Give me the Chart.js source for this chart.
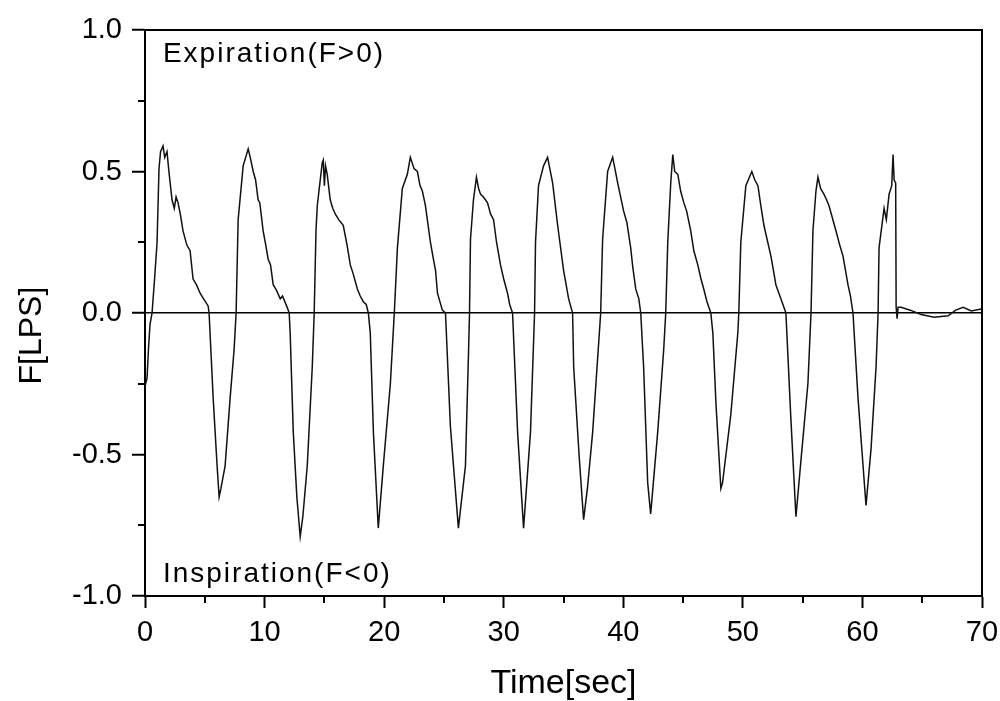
<!DOCTYPE html>
<html>
<head>
<meta charset="utf-8">
<title>F[LPS] vs Time[sec]</title>
<script src="https://cdn.jsdelivr.net/npm/chart.js@4.4.1/dist/chart.umd.min.js"></script>
<style>
  html, body { margin: 0; padding: 0; background: #fff; }
  #wrap { width: 1000px; height: 701px; }
</style>
</head>
<body>
<div id="wrap"><canvas id="flowChart" width="1000" height="701"></canvas></div>
<script>
// trace, one line per half breath
const timeSec = [
  0.0, 0.17, 0.3, 0.42, 0.59, 0.8, 1.01, 1.17, 1.3, 1.51, 1.65, 1.84, 2.0, 2.26, 2.45, 2.6, 2.76, 2.95, 3.18, 3.5, 3.77, 4.02, 4.3, 4.61, 4.9, 5.28, 5.36,
  5.70, 6.03, 6.20, 6.35, 6.70, 7.12, 7.45, 7.62,
  7.79, 8.21, 8.63, 8.8, 9.05, 9.25, 9.46, 9.6, 9.88, 10.1, 10.30, 10.5, 10.72, 11.0, 11.31, 11.5, 11.89, 12.06,
  12.14, 12.40, 12.7, 12.98, 13.2, 13.57, 13.99, 14.15,
  14.3, 14.41, 14.82, 14.91, 15.0, 15.1, 15.24, 15.49, 15.7, 15.91, 16.2, 16.58, 16.9, 17.17, 17.4, 17.76, 18.0, 18.26, 18.5, 18.68,
  18.84, 19.10, 19.51, 19.93, 20.52, 20.85,
  21.11, 21.52, 21.94, 22.19, 22.5, 22.78, 23.0, 23.20, 23.45, 23.87, 24.12, 24.3, 24.46, 24.87, 25.13,
  25.54, 26.21, 26.80, 27.05, 27.14,
  27.22, 27.47, 27.72, 27.9, 28.06, 28.3, 28.64, 28.9, 29.15, 29.4, 29.73, 30.0, 30.32, 30.5, 30.74,
  31.16, 31.66, 32.24, 32.58,
  32.66, 32.91, 33.33, 33.67, 34.09, 34.51, 35.01, 35.43, 35.76,
  35.85, 36.3, 36.68, 37.0, 37.44, 38.11,
  38.27, 38.69, 39.11, 39.3, 39.53, 40.03, 40.3, 40.62, 40.8, 41.04, 41.3, 41.46,
  41.7, 42.04, 42.29, 42.88, 43.38, 43.55,
  43.72, 43.97, 44.14, 44.3, 44.56, 44.8, 45.06, 45.3, 45.64, 45.9, 46.23, 46.5, 46.73, 47.0, 47.32,
  47.49, 47.75, 48.16, 48.3, 48.99, 49.58, 49.66,
  49.83, 50.25, 50.75, 51.0, 51.26, 51.5, 51.76, 52.35, 52.6, 52.76, 53.18, 53.60,
  54.0, 54.44, 54.86, 55.44, 55.70,
  55.86, 56.11, 56.28, 56.5, 56.78, 57.0, 57.20, 57.79, 58.1, 58.38, 58.79, 59.0, 59.21,
  59.63, 60.30, 60.72, 61.14, 61.31,
  61.39, 61.81, 62.0, 62.23, 62.45, 62.56, 62.65, 62.78, 62.82, 62.9, 62.98, 63.23, 64.0, 64.91, 66.00, 67.17, 67.8, 68.43, 69.10, 69.93, 70.0
];
const flowLps = [
  -0.26, -0.23, -0.12, -0.04, 0.0, 0.12, 0.25, 0.51, 0.57, 0.59, 0.55, 0.57, 0.50, 0.40, 0.37, 0.41, 0.39, 0.35, 0.29, 0.24, 0.22, 0.12, 0.10, 0.07, 0.05, 0.025, 0.0,
  -0.30, -0.54, -0.65, -0.62, -0.54, -0.30, -0.13, 0.0,
  0.33, 0.52, 0.58, 0.55, 0.50, 0.47, 0.40, 0.39, 0.29, 0.24, 0.19, 0.17, 0.10, 0.08, 0.05, 0.06, 0.02, 0.0,
  -0.07, -0.42, -0.65, -0.79, -0.72, -0.54, -0.19, 0.0,
  0.29, 0.38, 0.53, 0.54, 0.45, 0.52, 0.49, 0.40, 0.37, 0.35, 0.33, 0.31, 0.24, 0.17, 0.14, 0.085, 0.06, 0.04, 0.03, 0.0,
  -0.07, -0.42, -0.76, -0.54, -0.25, 0.0,
  0.23, 0.44, 0.49, 0.55, 0.51, 0.50, 0.45, 0.43, 0.38, 0.25, 0.19, 0.15, 0.07, 0.01, 0.0,
  -0.40, -0.76, -0.54, -0.15, 0.0,
  0.26, 0.40, 0.48, 0.44, 0.42, 0.41, 0.39, 0.35, 0.33, 0.25, 0.17, 0.12, 0.07, 0.03, 0.0,
  -0.42, -0.76, -0.42, 0.0,
  0.25, 0.45, 0.52, 0.55, 0.46, 0.31, 0.15, 0.05, 0.0,
  -0.19, -0.50, -0.73, -0.62, -0.42, 0.0,
  0.26, 0.50, 0.55, 0.51, 0.46, 0.36, 0.32, 0.23, 0.16, 0.085, 0.05, 0.0,
  -0.19, -0.60, -0.71, -0.42, -0.13, 0.0,
  0.25, 0.46, 0.56, 0.50, 0.49, 0.43, 0.39, 0.36, 0.29, 0.22, 0.17, 0.12, 0.085, 0.04, 0.0,
  -0.07, -0.32, -0.62, -0.60, -0.36, -0.07, 0.0,
  0.25, 0.45, 0.50, 0.47, 0.45, 0.38, 0.31, 0.20, 0.14, 0.10, 0.05, 0.0,
  -0.36, -0.72, -0.52, -0.25, 0.0,
  0.29, 0.43, 0.48, 0.44, 0.42, 0.40, 0.38, 0.29, 0.24, 0.20, 0.10, 0.06, 0.0,
  -0.30, -0.68, -0.48, -0.19, 0.0,
  0.23, 0.37, 0.33, 0.42, 0.45, 0.56, 0.47, 0.46, 0.02, -0.02, 0.02, 0.02, 0.01, -0.005, -0.015, -0.01, 0.01, 0.02, 0.007, 0.014, 0.012
];

const xMajorTicks = [0, 10, 20, 30, 40, 50, 60, 70];
const xMinorTicks = [5, 15, 25, 35, 45, 55, 65];
const yMajorTicks = [-1.0, -0.5, 0.0, 0.5, 1.0];
const yMinorTicks = [-0.75, -0.25, 0.25, 0.75];

const xTitle = 'Time[sec]';
const yTitle = 'F[LPS]';
const noteTop = 'Expiration(F>0)';
const noteBottom = 'Inspiration(F<0)';

const FONT = '"Liberation Sans", Arial, Helvetica, sans-serif';

// frame, minor ticks, notes and the rotated y title
const overlay = {
  id: 'overlay',
  afterDraw(chart) {
    const { ctx, chartArea: a, scales: { x, y } } = chart;
    ctx.save();
    ctx.strokeStyle = '#000';
    ctx.lineWidth = 2;
    ctx.beginPath();
    ctx.moveTo(a.left, a.top);
    ctx.lineTo(a.right, a.top);
    ctx.lineTo(a.right, a.bottom);
    ctx.stroke();

    xMinorTicks.forEach(v => {
      const px = Math.round(x.getPixelForValue(v));
      ctx.beginPath();
      ctx.moveTo(px, a.bottom);
      ctx.lineTo(px, a.bottom + 7);
      ctx.stroke();
    });
    yMinorTicks.forEach(v => {
      const py = Math.round(y.getPixelForValue(v));
      ctx.beginPath();
      ctx.moveTo(a.left, py);
      ctx.lineTo(a.left - 7, py);
      ctx.stroke();
    });

    ctx.fillStyle = '#000';
    ctx.font = '28px ' + FONT;
    ctx.letterSpacing = '2px';
    ctx.textAlign = 'left';
    ctx.textBaseline = 'middle';
    ctx.fillText(noteTop, x.getPixelForValue(1.5), y.getPixelForValue(0.915));
    ctx.fillText(noteBottom, x.getPixelForValue(1.5), y.getPixelForValue(-0.925));

    ctx.letterSpacing = '0px';
    ctx.font = '32px ' + FONT;
    ctx.translate(32, y.getPixelForValue(-0.08));
    ctx.rotate(-Math.PI / 2);
    ctx.textAlign = 'center';
    ctx.fillText(yTitle, 0, 0);
    ctx.restore();
  }
};

const points = timeSec.map((t, i) => ({ x: t, y: flowLps[i] }));

new Chart(document.getElementById('flowChart'), {
  type: 'line',
  data: {
    datasets: [{
      data: points,
      borderColor: '#111',
      borderWidth: 1.5,
      pointRadius: 0,
      tension: 0,
      fill: false
    }]
  },
  options: {
    responsive: false,
    animation: false,
    devicePixelRatio: 1,
    layout: { padding: { left: 0, top: 30, right: 18, bottom: 0 } },
    plugins: { legend: { display: false }, tooltip: { enabled: false } },
    scales: {
      x: {
        type: 'linear',
        min: 0,
        max: 70,
        afterBuildTicks: s => { s.ticks = xMajorTicks.map(v => ({ value: v })); },
        afterFit: s => { s.height = 105; s.paddingLeft = 0; s.paddingRight = 0; },
        ticks: {
          color: '#000',
          font: { family: FONT, size: 29 },
          padding: 8,
          maxRotation: 0,
          autoSkip: false,
          callback: v => String(v)
        },
        grid: { drawOnChartArea: false, tickLength: 12, tickWidth: 2, tickColor: '#000' },
        border: { display: true, color: '#000', width: 2 },
        title: {
          display: true,
          text: xTitle,
          color: '#000',
          font: { family: FONT, size: 34, lineHeight: 1 },
          padding: 0
        }
      },
      y: {
        type: 'linear',
        min: -1,
        max: 1,
        afterBuildTicks: s => { s.ticks = yMajorTicks.map(v => ({ value: v })); },
        afterFit: s => { s.width = 145; s.paddingTop = 0; s.paddingBottom = 0; },
        ticks: {
          color: '#000',
          font: { family: FONT, size: 29 },
          padding: 10,
          callback: v => Number(v).toFixed(1)
        },
        grid: {
          drawOnChartArea: true,
          color: c => (c.tick && c.tick.value === 0 ? '#000' : 'rgba(0,0,0,0)'),
          lineWidth: 1.5,
          tickLength: 13,
          tickWidth: 2,
          tickColor: '#000'
        },
        border: { display: true, color: '#000', width: 2 }
      }
    }
  },
  plugins: [overlay]
});
</script>
</body>
</html>
